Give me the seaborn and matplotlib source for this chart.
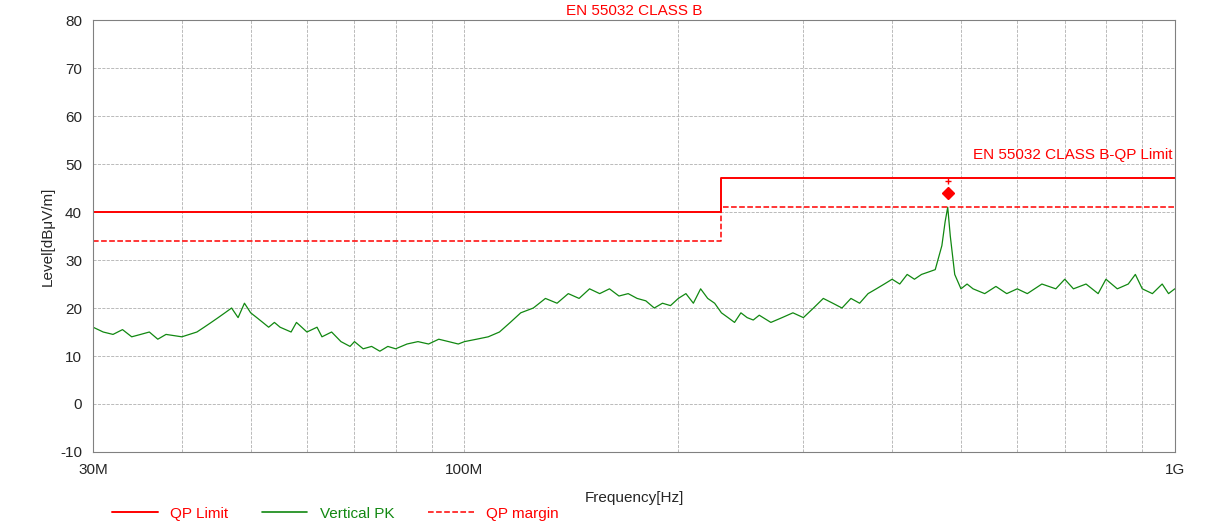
import matplotlib
matplotlib.use("Agg")
import matplotlib.pyplot as plt
import seaborn as sns
import numpy as np
from matplotlib.lines import Line2D
from matplotlib.ticker import FixedLocator, NullFormatter

sns.set_style("white")
plt.rcParams['font.family'] = ['Arial', 'Liberation Sans', 'DejaVu Sans']
plt.rcParams['axes.unicode_minus'] = False

freq_mhz = [30,31,32,33,34,35,36,37,38,40,42,43,44,45,46,47,48,49,50,51,52,53,54,55,57,58,59,60,62,63,65,67,69,70,72,74,76,78,80,83,86,89,92,95,98,100,104,108,112,116,120,125,130,135,140,145,150,155,160,165,170,175,180,185,190,195,200,205,210,215,220,225,230,235,240,245,250,255,260,270,280,290,300,310,320,330,340,350,360,370,380,390,400,410,420,430,440,450,460,470,475,479,483,490,500,510,520,540,560,580,600,620,650,680,700,720,750,780,800,830,860,880,900,930,960,980,1000]
level_pk = [16,15,14.5,15.5,14,14.5,15,13.5,14.5,14,15,16,17,18,19,20,18,21,19,18,17,16,17,16,15,17,16,15,16,14,15,13,12,13,11.5,12,11,12,11.5,12.5,13,12.5,13.5,13,12.5,13,13.5,14,15,17,19,20,22,21,23,22,24,23,24,22.5,23,22,21.5,20,21,20.5,22,23,21,24,22,21,19,18,17,19,18,17.5,18.5,17,18,19,18,20,22,21,20,22,21,23,24,25,26,25,27,26,27,27.5,28,33,38,41,35,27,24,25,24,23,24.5,23,24,23,25,24,26,24,25,23,26,24,25,27,24,23,25,23,24]

limit_f = [30, 230, 230, 1000]
qp_limit = [40, 40, 47, 47]
qp_margin = [34, 34, 41, 41]
peak_f, peak_v = [479], [44]

red = "#ff0000"
green = "#118811"
fig = plt.figure(figsize=(12.25, 5.29), dpi=100)
ax = fig.add_axes([0.076, 0.1456, 0.883, 0.8164])

sns.lineplot(x=freq_mhz, y=level_pk, ax=ax, color=green, linewidth=0.9, estimator=None, sort=False)
sns.lineplot(x=limit_f, y=qp_limit, ax=ax, color=red, linewidth=1.4, estimator=None, sort=False)
sns.lineplot(x=limit_f, y=qp_margin, ax=ax, color=red, linewidth=1.1, linestyle="--", estimator=None, sort=False)
ax.plot(peak_f, peak_v, marker="D", color=red, markersize=6, linestyle="none")
ax.plot(peak_f, [46.5], marker="+", color=red, markersize=4, linestyle="none")

ax.set_xscale("log")
ax.set_xlim(30, 1000)
ax.set_ylim(-10, 80)
ax.set_yticks(range(-10, 81, 10))
ax.set_xticks([30, 100, 1000])
ax.set_xticklabels(["30M", "100M", "1G"])
ax.xaxis.set_minor_locator(FixedLocator([40,50,60,70,80,90,200,300,400,500,600,700,800,900]))
ax.xaxis.set_minor_formatter(NullFormatter())
ax.grid(True, which="both", axis="both", color="#b0b0b0", linestyle="--", linewidth=0.6)
for s in ax.spines.values():
    s.set_color("#808080")
ax.tick_params(labelsize=11, length=0, pad=8)
ax.set_xlabel("Frequency[Hz]", fontsize=11, labelpad=10)
ax.set_ylabel("Level[dBμV/m]", fontsize=11)
ax.set_title("EN 55032 CLASS B", color=red, fontsize=11, pad=4)
ax.text(0.998, 50.5, "EN 55032 CLASS B-QP Limit", transform=ax.get_yaxis_transform(),
        ha="right", va="bottom", color=red, fontsize=11)

handles = [Line2D([], [], color=red, lw=1.4), Line2D([], [], color=green, lw=1.2),
           Line2D([], [], color=red, lw=1.1, ls="--")]
fig.legend(handles, ["QP Limit", "Vertical PK", "QP margin"], loc="lower left",
           bbox_to_anchor=(0.08, -0.01), ncol=3, frameon=False, fontsize=11,
           handlelength=3, columnspacing=2.2, labelcolor=[red, green, red])
fig.savefig("out.png", dpi=100)
